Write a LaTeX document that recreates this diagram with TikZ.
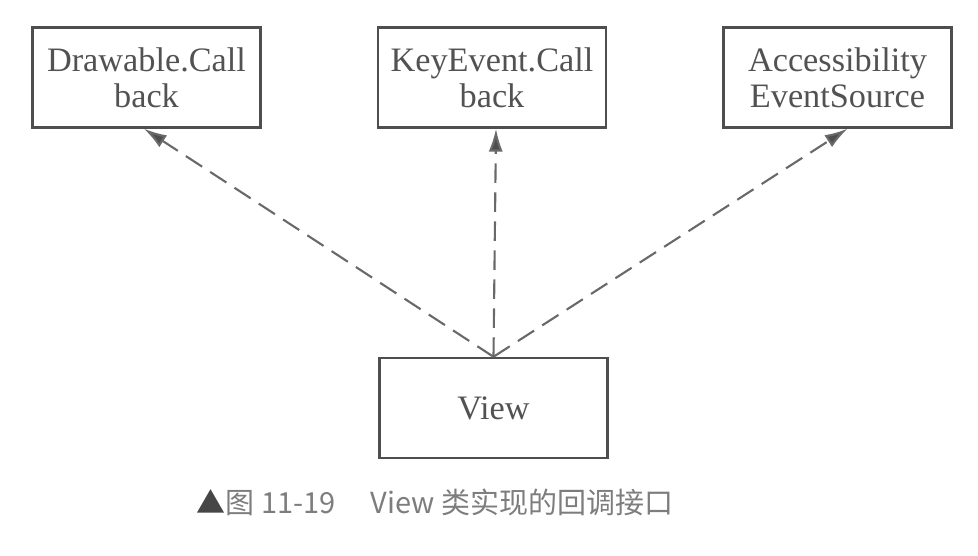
\documentclass[tikz,border=0pt]{standalone}
\usepackage{fontspec}
\setmainfont{Liberation Serif}
\newfontfamily\cjk{Noto Sans CJK SC}
\usepackage{tikz}
\usetikzlibrary{arrows.meta,positioning}
\definecolor{cLine}{RGB}{78,78,78}
\definecolor{cDash}{RGB}{105,105,105}
\definecolor{cText}{RGB}{82,82,82}
\definecolor{cCap}{RGB}{125,125,125}
\definecolor{cMark}{RGB}{70,70,70}

\begin{document}
\begin{tikzpicture}[
    ifbox/.style={draw=cLine,line width=1.4pt,minimum width=4.56cm,minimum height=2cm,
      align=center,text=cText,font=\fontsize{19.5}{20.5}\selectfont,inner sep=0pt},
    impl/.style={draw=cDash,line width=1.2pt,dash pattern=on 11pt off 5.5pt,
      -{Latex[length=13pt,width=8pt,fill=cLine]}}]
  \useasboundingbox (0,0) rectangle (19.56,-11.1);
  % interfaces
  \node[ifbox] (drawcb) at (2.93,-1.55) {Drawable.Call\\back};
  \node[ifbox] (keycb)  at (9.84,-1.55) {KeyEvent.Call\\back};
  \node[ifbox] (accsrc) at (16.75,-1.55) {Accessibility\\EventSource};
  % the class
  \node[ifbox] (view) at (9.87,-8.16) {View};
  % implements
  \draw[impl] (view.north) -- ([xshift=-0.05cm]drawcb.south);
  \draw[impl] (view.north) -- ([xshift=0.08cm]keycb.south);
  \draw[impl] (view.north) -- ([xshift=0.2cm]accsrc.south);
  % caption
  \node[font=\cjk\fontsize{16.5}{18}\selectfont,text=cCap] (cap) at (8.7,-10.04)
    {{\color{cMark}▲}图 11-19\hspace{1.2em}View 类实现的回调接口};
\end{tikzpicture}
\end{document}
